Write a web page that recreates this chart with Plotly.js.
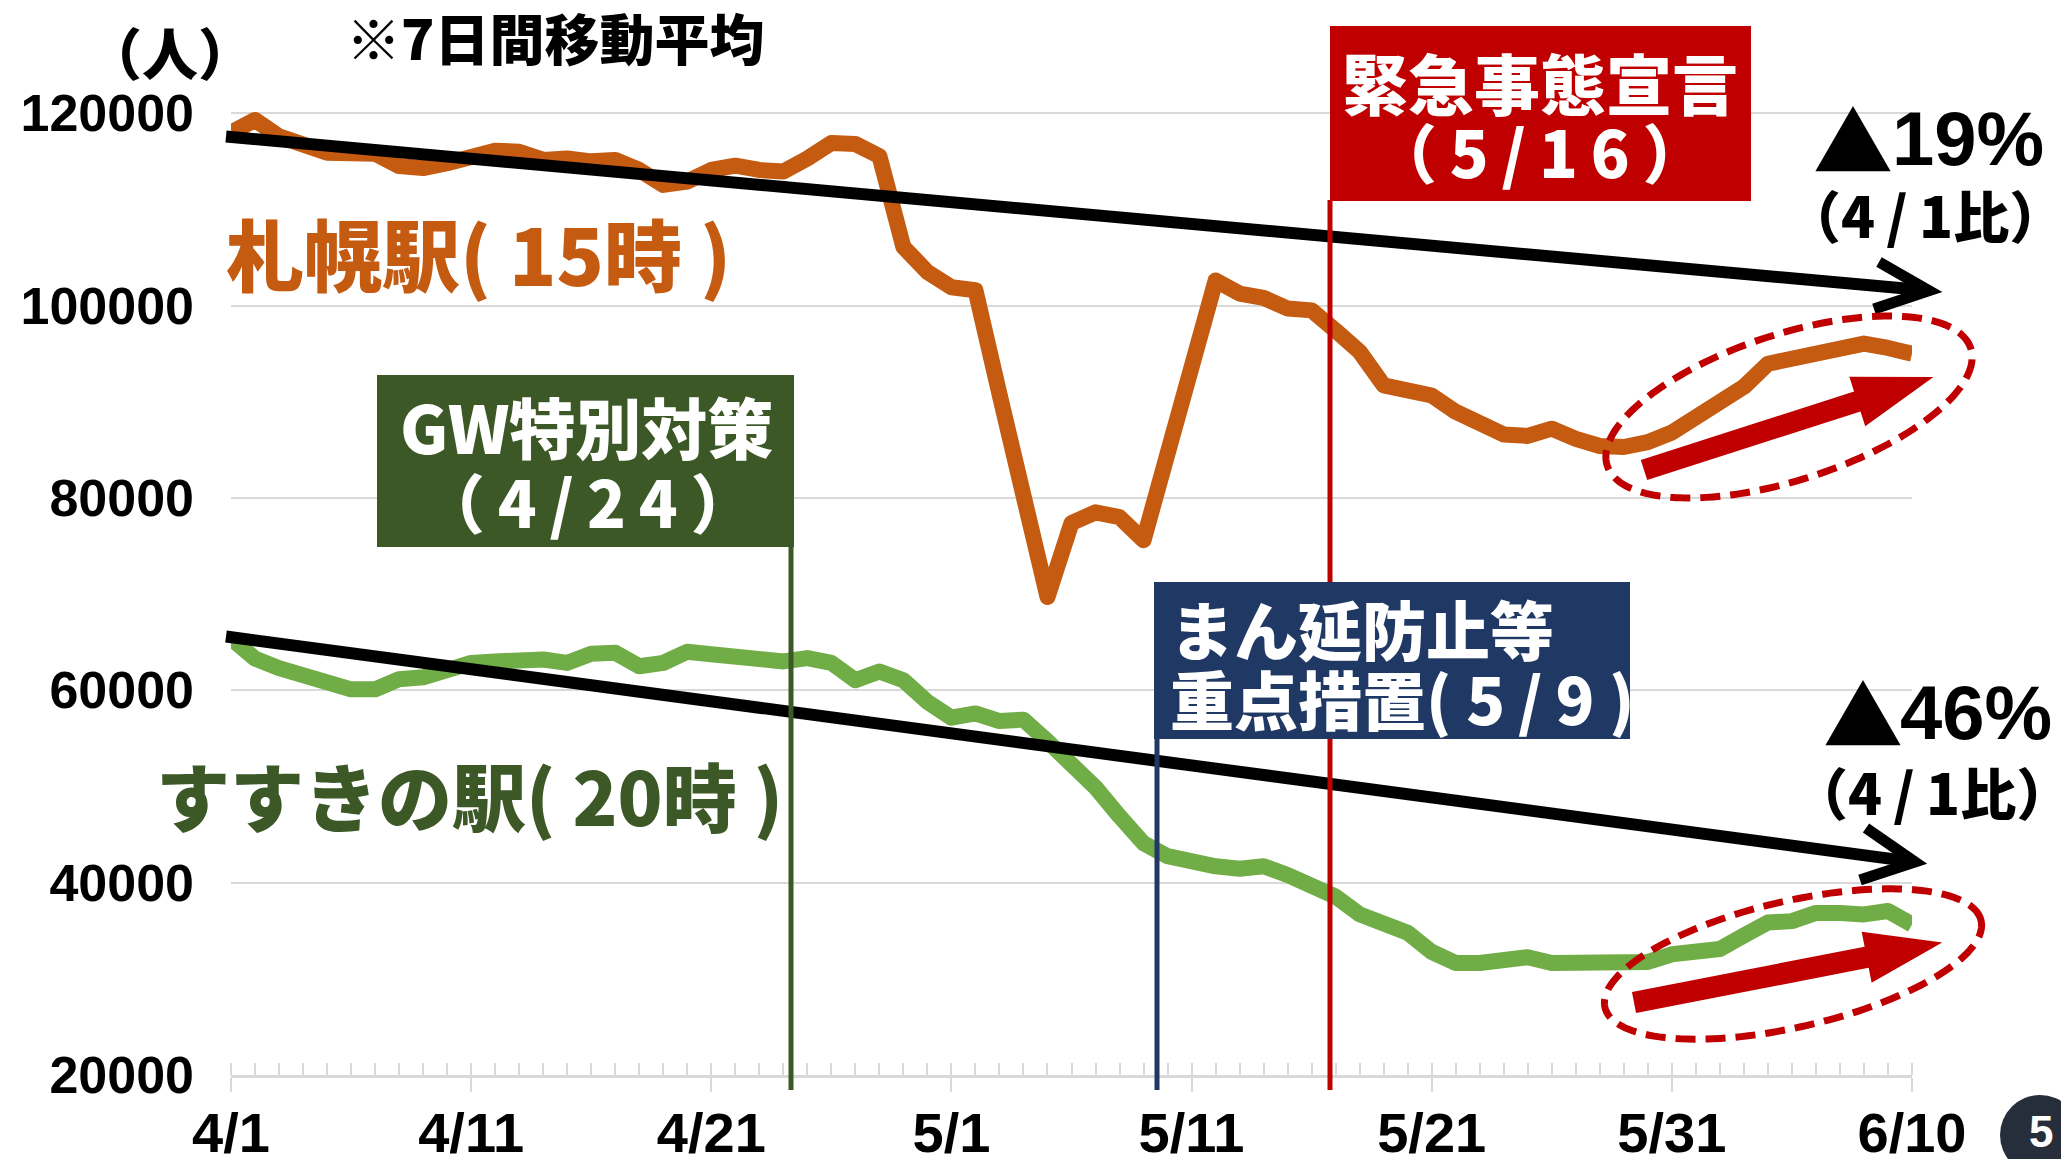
<!DOCTYPE html>
<html>
<head>
<meta charset="utf-8">
<script src="https://cdn.plot.ly/plotly-3.0.1.min.js"></script>
<style>
  html, body { margin: 0; padding: 0; background: #ffffff; }
  #chart { width: 2061px; height: 1159px; }
  .scatterlayer .js-line { stroke-linejoin: round !important; }
</style>
</head>
<body>
<div id="chart"></div>
<script>
// ---------------- data ----------------
const dayCount = 71;                                          // 4/1 .. 6/10
const dayIndex = Array.from({length: dayCount}, (_, i) => i);
const tickPos = [0, 10, 20, 30, 40, 50, 60, 70];
const tickLabels = ['4/1', '4/11', '4/21', '5/1', '5/11', '5/21', '5/31', '6/10'];
const yTicks = [20000, 40000, 60000, 80000, 100000, 120000];

// 札幌駅 (15時) 7日間移動平均
const sapporo = [
  118000,119300,117600,116600,115900,115850,115800,114500,114300,114800,
  115400,116100,116000,115150,115300,115000,115150,114100,112550,112900,
  114100,114550,114100,113950,115300,116900,116800,115550,106100,103500,
  101900,101600, 90800, 80300, 69700, 77400, 78500, 78000, 75600, 84600,
   93600,102600,101250,100800, 99700, 99500, 97400, 95200, 91700, 91250,
   90650, 88950, 87550, 86600, 86450, 87200, 86150, 85400, 85300, 85800,
   86800, 88250, 89650, 91550, 93950, 94500, 95000, 95800, 96050, 95600,
   95000];
// すすきの駅 (20時) 7日間移動平均
const susukino = [
  65400,63300,62300,61450,60600,60100,60100,61150,61350,62050,
  62850,63000,63200,63200,62850,63800,63900,62500,62850,64000,
  63750,63450,63000,63000,63350,62850,61050,61950,61050,58800,
  57150,57600,56800,56950,54700,52500,49900,46900,44100,42750,
  42050,41700,41450,41700,40800,39800,38550,36700,35950,34800,
  32800,31650,31650,31800,32250,31650,31650,31750,32000,31750,
  32550,32800,33100,34500,35850,36000,36850,36850,36700,37050,
  35650];

// ---------------- geometry helpers (overlay annotations) ----------------
const W = 2061, H = 1159, ML = 231, MR = 149, MT = 94, MB = 84;
const PW = W - ML - MR, PH = H - MT - MB;
const fx = px => (px - ML) / PW;
const fy = py => (H - MB - py) / PH;

const JP = '"Noto Sans CJK JP", "Noto Sans CJK SC", sans-serif';
const NUM = '"Liberation Sans", Arial, sans-serif';

const ORANGE = '#C55A11', GREEN = '#70AD47', DKGREEN = '#3B5826', NAVY = '#203864', RED = '#C00000';
const TS = '\u2009';   // thin space

function seg(x0, y0, x1, y1, color, width) {
  return {type: 'line', xref: 'paper', yref: 'paper', x0: fx(x0), y0: fy(y0), x1: fx(x1), y1: fy(y1),
          line: {color: color, width: width}};
}
function box(x0, y0, x1, y1, fill) {
  return {type: 'rect', xref: 'paper', yref: 'paper', x0: fx(x0), y0: fy(y0), x1: fx(x1), y1: fy(y1),
          fillcolor: fill, line: {width: 0}};
}
function poly(pts, closed, style) {
  const d = 'M' + pts.map(p => fx(p[0]).toFixed(5) + ',' + fy(p[1]).toFixed(5)).join('L') + (closed ? 'Z' : '');
  return Object.assign({type: 'path', xref: 'paper', yref: 'paper', path: d}, style);
}
function ellipsePts(cx, cy, a, b, deg, n) {
  const th = deg * Math.PI / 180, pts = [];
  for (let i = 0; i <= n; i++) {
    const t = 2 * Math.PI * i / n, ex = a * Math.cos(t), ey = b * Math.sin(t);
    pts.push([cx + ex * Math.cos(th) - ey * Math.sin(th), cy - (ex * Math.sin(th) + ey * Math.cos(th))]);
  }
  return pts;
}
function blockArrowPts(tx, ty, deg, shaftLen, shaftHW, headLen, headHW) {
  const a = deg * Math.PI / 180, ux = Math.cos(a), uy = -Math.sin(a), nx = Math.sin(a), ny = Math.cos(a);
  const bx = tx + ux * shaftLen, by = ty + uy * shaftLen;
  const tipx = bx + ux * headLen, tipy = by + uy * headLen;
  return [[tx + nx * shaftHW, ty + ny * shaftHW], [bx + nx * shaftHW, by + ny * shaftHW],
          [bx + nx * headHW, by + ny * headHW], [tipx, tipy],
          [bx - nx * headHW, by - ny * headHW], [bx - nx * shaftHW, by - ny * shaftHW],
          [tx - nx * shaftHW, ty - ny * shaftHW]];
}
function trendArrow(x0, y0, tx, ty, w1, w2, width) {
  const L = Math.hypot(tx - x0, ty - y0), ex = tx - (tx - x0) / L * 7, ey = ty - (ty - y0) / L * 7;
  return [seg(x0, y0, ex, ey, '#000000', width),
          poly([w1, [tx, ty], w2], false, {line: {color: '#000000', width: width - 1}})];
}
function txt(text, x, y, size, color, opts) {
  opts = opts || {};
  return {text: text, xref: 'paper', yref: 'paper', x: fx(x), y: fy(y), showarrow: false,
          xanchor: opts.xanchor || 'center', yanchor: 'middle',
          font: {family: opts.family || JP, size: size, color: color, weight: opts.weight || 900}};
}

// ---------------- shapes ----------------
const shapes = [];
// trend arrows
shapes.push(...trendArrow(226, 136.5, 1929, 290.7, [1879, 262], [1874, 309], 12));
shapes.push(...trendArrow(226, 636.5, 1915, 862, [1866, 828], [1860, 880], 12));
// event lines
shapes.push(seg(791, 546, 791, 1090, DKGREEN, 5));
shapes.push(seg(1157, 738, 1157, 1090, NAVY, 5));
shapes.push(seg(1330, 200, 1330, 1090, RED, 5));
// event boxes
shapes.push(box(377, 375, 794, 547, DKGREEN));
shapes.push(box(1154, 582, 1630, 739, NAVY));
shapes.push(box(1330, 26, 1751, 201, RED));
// dashed ellipses
shapes.push(poly(ellipsePts(1789, 407, 191, 73, 17.9, 160), true, {line: {color: RED, width: 7, dash: '20px,10px'}}));
shapes.push(poly(ellipsePts(1793, 964, 193, 63, 13, 160), true, {line: {color: RED, width: 7, dash: '20px,10px'}}));
// red rising arrows
shapes.push(poly(blockArrowPts(1644, 470, 17.8, 224, 10.5, 80, 26), true, {fillcolor: RED, line: {width: 0}}));
shapes.push(poly(blockArrowPts(1634, 1002.5, 11, 237, 10.7, 77, 26), true, {fillcolor: RED, line: {width: 0}}));
// page badge
shapes.push({type: 'circle', xref: 'paper', yref: 'paper', x0: fx(2000), x1: fx(2080), y0: fy(1095), y1: fy(1175),
             fillcolor: '#262D3B', line: {width: 0}});

// ---------------- text ----------------
const annotations = [
  txt('（人）', 170, 51, 56, '#000000'),
  txt('※7日間移動平均', 344, 36, 55, '#000000', {xanchor: 'left'}),
  txt('札幌駅( 15時 )', 224, 252, 78, ORANGE, {xanchor: 'left'}),
  txt('すすきの駅( 20時 )', 154, 793, 74, DKGREEN, {xanchor: 'left'}),
  txt('GW特別対策', 586, 425, 66, '#ffffff'),
  txt('（' + TS + '4' + TS + '/' + TS + '2' + TS + '4' + TS + '）', 588, 500, 64, '#ffffff'),
  txt('緊急事態宣言', 1540, 81, 66, '#ffffff'),
  txt('（' + TS + '5' + TS + '/' + TS + '1' + TS + '6' + TS + '）', 1540, 150, 64, '#ffffff'),
  txt('まん延防止等', 1168, 627, 64, '#ffffff', {xanchor: 'left'}),
  txt('重点措置( 5' + TS + '/' + TS + '9 )', 1168, 697, 64, '#ffffff', {xanchor: 'left'}),
  txt('▲', 1853, 137, 80, '#000000'),
  txt('19%', 2046, 138, 76, '#000000', {xanchor: 'right', family: NUM, weight: 'bold'}),
  txt('（4' + TS + '/' + TS + '1比）', 1925, 214, 56, '#000000'),
  txt('▲', 1863, 711, 80, '#000000'),
  txt('46%', 2054, 712, 76, '#000000', {xanchor: 'right', family: NUM, weight: 'bold'}),
  txt('（4' + TS + '/' + TS + '1比）', 1932, 790, 56, '#000000'),
  txt('5', 2041, 1131, 44, '#ffffff', {family: NUM, weight: 'bold'})
];

// ---------------- traces ----------------
const traces = [
  {x: dayIndex, y: susukino, type: 'scatter', mode: 'lines', name: 'すすきの駅(20時)',
   line: {color: GREEN, width: 16}, hoverinfo: 'skip'},
  {x: dayIndex, y: sapporo, type: 'scatter', mode: 'lines', name: '札幌駅(15時)',
   line: {color: ORANGE, width: 16}, hoverinfo: 'skip'}
];

const layout = {
  width: W, height: H,
  margin: {l: ML, r: MR, t: MT, b: MB, pad: 0},
  paper_bgcolor: '#ffffff', plot_bgcolor: '#ffffff',
  showlegend: false,
  xaxis: {
    range: [0, 70], tickmode: 'array', tickvals: tickPos, ticktext: tickLabels,
    ticks: 'outside', ticklen: 14, tickwidth: 2, tickcolor: '#d9d9d9',
    showline: true, linecolor: '#d9d9d9', linewidth: 3, showgrid: false, zeroline: false,
    minor: {ticks: 'inside', ticklen: 12, tickwidth: 2, tickcolor: '#d9d9d9', tick0: 0, dtick: 1, showgrid: false},
    tickfont: {family: NUM, size: 56, color: '#000000', weight: 'bold'},
    ticklabelstandoff: -7
  },
  yaxis: {
    range: [20000, 122000], tickmode: 'array', tickvals: yTicks, ticktext: yTicks.map(String),
    ticks: '', showgrid: true, gridcolor: '#d9d9d9', gridwidth: 2, zeroline: false, showline: false,
    tickfont: {family: NUM, size: 52, color: '#000000', weight: 'bold'},
    ticklabelstandoff: 36
  },
  shapes: shapes,
  annotations: annotations
};

Plotly.newPlot('chart', traces, layout, {staticPlot: true, displayModeBar: false});
</script>
</body>
</html>
